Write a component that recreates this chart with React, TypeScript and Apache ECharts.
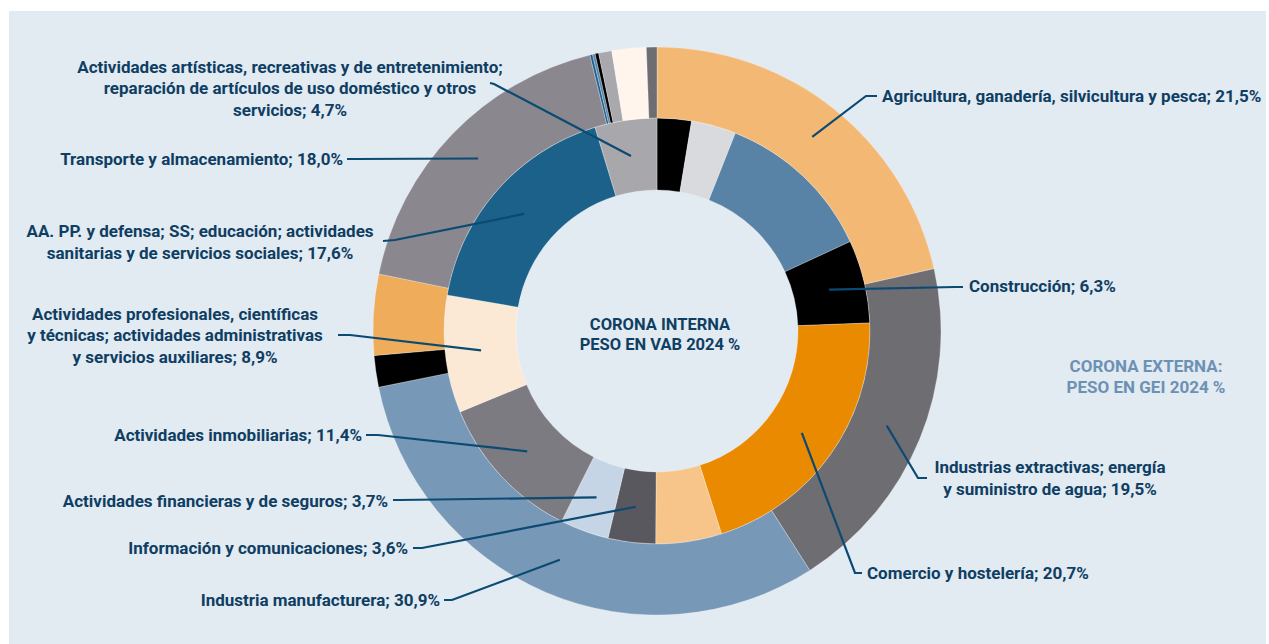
import React, { useEffect, useRef } from "react";
import * as echarts from "echarts";

// ---- data ----
const categories = [
  "Agricultura, ganadería, silvicultura y pesca",
  "Industrias extractivas; energía y suministro de agua",
  "Industria manufacturera",
  "Construcción",
  "Comercio y hostelería",
  "Transporte y almacenamiento",
  "Información y comunicaciones",
  "Actividades financieras y de seguros",
  "Actividades inmobiliarias",
  "Actividades profesionales, científicas y técnicas; actividades administrativas y servicios auxiliares",
  "AA. PP. y defensa; SS; educación; actividades sanitarias y de servicios sociales",
  "Actividades artísticas, recreativas y de entretenimiento; reparación de artículos de uso doméstico y otros servicios",
];
// label text as printed (with line breaks)
const labelNames = [
  "Agricultura, ganadería, silvicultura y pesca",
  "Industrias extractivas; energía\ny suministro de agua",
  "Industria manufacturera",
  "Construcción",
  "Comercio y hostelería",
  "Transporte y almacenamiento",
  "Información y comunicaciones",
  "Actividades financieras y de seguros",
  "Actividades inmobiliarias",
  "Actividades profesionales, científicas\ny técnicas; actividades administrativas\ny servicios auxiliares",
  "AA. PP. y defensa; SS; educación; actividades\nsanitarias y de servicios sociales",
  "Actividades artísticas, recreativas y de entretenimiento;\nreparación de artículos de uso doméstico y otros\nservicios",
];
// inner ring: weight in gross value added (VAB) 2024, %
const vabValues = [2.6, 3.4, 12.1, 6.3, 20.7, 5.0, 3.6, 3.7, 11.4, 8.9, 17.6, 4.7];
// outer ring: weight in greenhouse gas emissions (GEI) 2024, %
const geiValues = [21.5, 19.5, 30.9, 1.8, 4.6, 18.0, 0.15, 0.15, 0.2, 0.75, 1.95, 0.6];
// which ring carries each category's label
const labelRing = ["gei", "gei", "gei", "vab", "vab", "gei", "vab", "vab", "vab", "vab", "vab", "vab"];

const vabColors = ["#000000", "#d9dadd", "#5882a6", "#000000", "#e98a00", "#f7c58a", "#59585e", "#c5d5e5", "#7c7b81", "#fbe9d5", "#1c6189", "#a8a7ac"];
const geiColors = ["#f3b974", "#6e6d72", "#7898b7", "#000000", "#efac5a", "#8a888e", "#1f5f8b", "#5b87ad", "#000000", "#a9a8ad", "#fff5ec", "#6e6d72"];

// ---- layout (positions only) ----
const CX = 657;
const CY = 331;
const R_IN = [141, 213];
const R_OUT = [213, 284];
const TEXT = "#0f3e63";
const LINE = "#0b4a72";

// label anchor, bend and end of leader line per category
const labelPos: any[] = [
  { x: 882, y: 96, align: "left", bend: [866, 96], end: [877, 96] },
  { x: 1050, y: 478, align: "center", bend: [918, 478], end: [927, 478] },
  { x: 440, y: 600, align: "right", bend: [452, 600], end: [444, 600] },
  { x: 969, y: 286, align: "left", bend: [955, 287], end: [963, 287] },
  { x: 867, y: 573, align: "left", bend: [855, 573], end: [862, 573] },
  { x: 343, y: 159, align: "right", bend: [355, 159], end: [347, 159] },
  { x: 408, y: 548, align: "right", bend: [422, 548], end: [413, 548] },
  { x: 388, y: 501, align: "right", bend: [400, 500], end: [393, 500] },
  { x: 362, y: 435, align: "right", bend: [378, 435], end: [366, 435] },
  { x: 175, y: 335, align: "center", bend: [350, 335], end: [338, 335] },
  { x: 200, y: 242, align: "center", bend: [395, 240], end: [383, 241] },
  { x: 290, y: 88, align: "center", bend: [494, 84], end: [490, 83] },
];

const fmt = (v: number) => v.toFixed(1).replace(".", ",") + "%";

function buildData(values: number[], colors: string[], ring: string, forLabels: boolean) {
  return values.map((v, i) => {
    const show = forLabels && labelRing[i] === ring;
    return {
      name: categories[i],
      value: v,
      itemStyle: forLabels
        ? { color: "rgba(0,0,0,0)", borderWidth: 0 }
        : { color: colors[i] },
      label: show
        ? { show: true, formatter: labelNames[i] + "; " + fmt(v) }
        : { show: false },
      labelLine: { show: show },
    };
  });
}

export default function App() {
  const ref = useRef<HTMLDivElement>(null);
  useEffect(() => {
    if (!ref.current) return;
    const chart = echarts.init(ref.current, undefined, { renderer: "svg" });
    const radiusOf = (name: string) => (name === "VAB labels" ? R_IN : R_OUT);
    const labelLayout = (params: any) => {
      const p = labelPos[params.dataIndex];
      const s = chart.getModel().getSeriesByIndex(params.seriesIndex);
      const r = radiusOf(s ? (s.name as string) : "");
      const rMid = (r[0] + r[1]) / 2;
      const pts = params.labelLinePoints;
      let start = [CX, CY - rMid];
      if (pts && pts.length) {
        const dx = pts[0][0] - CX;
        const dy = pts[0][1] - CY;
        const len = Math.sqrt(dx * dx + dy * dy) || 1;
        start = [CX + (dx * rMid) / len, CY + (dy * rMid) / len];
      }
      return {
        x: p.x,
        y: p.y,
        align: p.align,
        verticalAlign: "middle",
        labelLinePoints: [start, p.bend, p.end],
      };
    };
    const common = {
      type: "pie",
      center: [CX, CY],
      startAngle: 90,
      clockwise: true,
      avoidLabelOverlap: false,
      animation: false,
      silent: true,
    };
    const labelCommon = {
      ...common,
      z: 10,
      label: {
        position: "outside",
        color: TEXT,
        fontFamily: "Roboto",
        fontWeight: "bold",
        fontSize: 17,
        lineHeight: 21.5,
      },
      labelLine: {
        show: true,
        length: 10,
        length2: 10,
        lineStyle: { color: LINE, width: 2.2 },
      },
      labelLayout,
    };
    const ringCommon = {
      ...common,
      z: 2,
      itemStyle: { borderColor: "rgba(255,255,255,0.55)", borderWidth: 0.5 },
      label: { show: false },
      labelLine: { show: false },
    };
    chart.setOption({
      animation: false,
      graphic: [
        {
          type: "rect",
          z: -10,
          shape: { x: 9, y: 11, width: 1257, height: 640 },
          style: { fill: "#e2eaf2" },
          silent: true,
        },
        {
          type: "text",
          z: 100,
          x: 660,
          y: 334,
          style: {
            text: "CORONA INTERNA\nPESO EN VAB 2024 %",
            fill: TEXT,
            font: "bold 16.5px Roboto",
            align: "center",
            verticalAlign: "middle",
            lineHeight: 20,
          },
        },
        {
          type: "text",
          z: 100,
          x: 1146,
          y: 376,
          style: {
            text: "CORONA EXTERNA:\nPESO EN GEI 2024 %",
            fill: "#6d91b5",
            font: "bold 17px Roboto",
            align: "center",
            verticalAlign: "middle",
            lineHeight: 21,
          },
        },
      ],
      series: [
        { ...ringCommon, name: "VAB", radius: R_IN, data: buildData(vabValues, vabColors, "vab", false) },
        { ...ringCommon, name: "GEI", radius: R_OUT, data: buildData(geiValues, geiColors, "gei", false) },
        { ...labelCommon, name: "VAB labels", radius: R_IN, data: buildData(vabValues, vabColors, "vab", true) },
        { ...labelCommon, name: "GEI labels", radius: R_OUT, data: buildData(geiValues, geiColors, "gei", true) },
      ],
    });
    return () => chart.dispose();
  }, []);
  return (
    <div
      ref={ref}
      style={{ position: "absolute", left: 0, top: 0, width: 1269, height: 644, background: "#ffffff" }}
    />
  );
}
